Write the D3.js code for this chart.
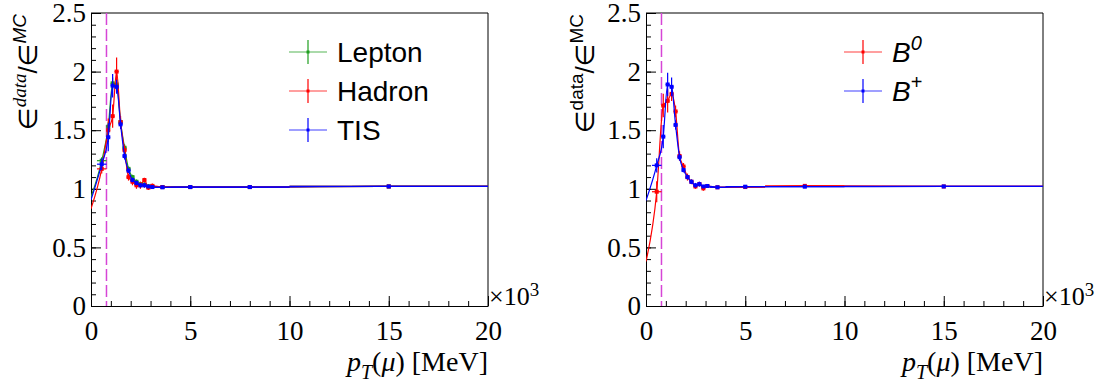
<!DOCTYPE html>
<html><head><meta charset="utf-8">
<script src="https://cdn.jsdelivr.net/npm/d3@7"></script>
<style>
html,body{margin:0;padding:0;background:#fff;}
svg{display:block;}
</style></head>
<body>
<svg id="chart" width="1109" height="383"></svg>
<script>
// ---------- data ----------
const binCenters = [0.54, 0.87, 1.09, 1.29, 1.49, 1.69, 1.89, 2.09, 2.29, 2.49, 2.69, 2.89, 3.09, 3.6, 5, 8, 15];
const binHalfWidths = [0.24, 0.1, 0.1, 0.1, 0.1, 0.1, 0.1, 0.1, 0.1, 0.1, 0.1, 0.1, 0.1, 0.4, 1, 2, 5];

// left panel
const leptonValues = [1.24, 1.53, 1.90, 1.89, 1.57, 1.35, 1.17, 1.10, 1.06, 1.04, 1.035, 1.02, 1.02, 1.015, 1.015, 1.015, 1.02];
const leptonErrors = [0.03, 0.04, 0.05, 0.05, 0.03, 0.03, 0.02, 0.02, 0.02, 0.02, 0.02, 0.02, 0.01, 0.01, 0.005, 0.005, 0.005];
const hadronValues = [1.17, 1.50, 1.62, 2.00, 1.57, 1.33, 1.10, 1.06, 1.03, 1.03, 1.075, 1.01, 1.025, 1.015, 1.015, 1.015, 1.02];
const hadronErrors = [0.04, 0.1, 0.1, 0.12, 0.05, 0.04, 0.03, 0.03, 0.03, 0.03, 0.02, 0.02, 0.02, 0.01, 0.005, 0.005, 0.005];
const tisValues    = [1.21, 1.44, 1.88, 1.87, 1.55, 1.28, 1.155, 1.075, 1.05, 1.03, 1.03, 1.02, 1.015, 1.013, 1.015, 1.015, 1.02];
const tisErrors    = [0.05, 0.12, 0.1, 0.06, 0.04, 0.03, 0.02, 0.02, 0.02, 0.02, 0.02, 0.01, 0.01, 0.01, 0.005, 0.005, 0.005];
const leftCurveStart = {Lepton: 0.93, Hadron: 0.83, TIS: 0.905};

// right panel
const b0Values     = [0.975, 1.71, 1.75, 1.81, 1.66, 1.28, 1.19, 1.10, 1.06, 1.02, 1.04, 1.004, 1.024, 1.013, 1.015, 1.025, 1.02];
const b0Errors     = [0.09, 0.1, 0.1, 0.06, 0.05, 0.04, 0.03, 0.03, 0.02, 0.02, 0.02, 0.02, 0.01, 0.01, 0.005, 0.005, 0.005];
const bplusValues  = [1.20, 1.445, 1.89, 1.87, 1.545, 1.27, 1.16, 1.10, 1.06, 1.03, 1.04, 1.02, 1.024, 1.013, 1.018, 1.018, 1.02];
const bplusErrors  = [0.06, 0.1, 0.1, 0.08, 0.04, 0.03, 0.02, 0.02, 0.02, 0.02, 0.02, 0.01, 0.01, 0.01, 0.005, 0.005, 0.005];
const rightCurveStart = {B0: 0.38, Bplus: 0.90};

const xTicks = [0, 5, 10, 15, 20];
const yTicks = [0, 0.5, 1, 1.5, 2, 2.5];
const cutValue = 0.78;

// ---------- drawing ----------
const svg = d3.select("#chart");
const SERIF = "'Liberation Serif','Times New Roman',serif";
const SANS = "'Liberation Sans',Arial,sans-serif";

function panel(opts) {
  const x = d3.scaleLinear().domain([0, 20]).range([opts.x0, opts.x1]);
  const y = d3.scaleLinear().domain([0, 2.5]).range([306, 13]);
  const g = svg.append("g");

  // minor ticks
  g.append("g").attr("transform", `translate(0,${y(0)})`)
    .call(d3.axisBottom(x).tickValues(d3.range(0, 21, 1)).tickSize(-5).tickFormat(""))
    .call(s => s.select(".domain").remove());
  g.append("g").attr("transform", `translate(${x(0)},0)`)
    .call(d3.axisLeft(y).tickValues(d3.range(0, 2.51, 0.1)).tickSize(-5).tickFormat(""))
    .call(s => s.select(".domain").remove());
  // major
  const xa = g.append("g").attr("transform", `translate(0,${y(0)})`)
    .call(d3.axisBottom(x).tickValues(xTicks).tickSize(-10).tickSizeOuter(0).tickPadding(15).tickFormat(d3.format("d")));
  const ya = g.append("g").attr("transform", `translate(${x(0)},0)`)
    .call(d3.axisLeft(y).tickValues(yTicks).tickSize(-10).tickSizeOuter(0).tickPadding(5).tickFormat(d => d3.format("")(d)));
  [xa, ya].forEach(a => {
    a.attr("font-family", SERIF).attr("font-size", 27);
    a.selectAll("text").attr("font-family", SERIF).attr("font-size", 27).attr("fill", "#000");
    a.selectAll("line").attr("stroke", "#000");
    a.select(".domain").attr("stroke", "#000");
  });
  g.selectAll(".tick line").attr("stroke", "#000");
  // frame top/right
  g.append("path").attr("d", `M${x(0)},${y(2.5)}H${x(20)}V${y(0)}`).attr("fill", "none").attr("stroke", "#000");

  // x10^3
  const e = g.append("text").attr("x", x(20) + 1).attr("y", 305).attr("font-family", SERIF).attr("font-size", 26);
  e.append("tspan").text("×10");
  e.append("tspan").attr("dy", -9).attr("font-size", 19).text("3");

  // x title
  const t = g.append("text").attr("x", x(20)).attr("y", 371).attr("text-anchor", "end")
    .attr("font-family", SERIF).attr("font-size", 28);
  t.append("tspan").attr("font-style", "italic").text("p");
  t.append("tspan").attr("font-style", "italic").attr("font-size", 20).attr("dy", 8).text("T");
  t.append("tspan").attr("dy", -8).text("(");
  t.append("tspan").attr("font-style", "italic").text("μ");
  t.append("tspan").text(") [MeV]");

  // y title
  const yt = g.append("text").attr("transform", `translate(${opts.ytx},14) rotate(-90)`)
    .attr("text-anchor", "end").attr("font-family", "'DejaVu Sans',sans-serif").attr("font-size", 26);
  yt.append("tspan").text("∈");
  yt.append("tspan").attr("dy", -11).attr("font-size", 19).attr("font-family", opts.supFont).attr("font-style", opts.supStyle).text("data");
  yt.append("tspan").attr("dy", 11).attr("font-family", SANS).text("/");
  yt.append("tspan").text("∈");
  yt.append("tspan").attr("dy", -11).attr("font-size", 19).attr("font-family", SANS).attr("font-style", opts.supStyle2).text("MC");

  // cut line
  g.append("line").attr("x1", x(cutValue)).attr("x2", x(cutValue)).attr("y1", y(2.5)).attr("y2", y(0))
    .attr("stroke", "#d645d6").attr("stroke-width", 1.5).attr("stroke-dasharray", "12,4");

  const clip = "clip" + opts.id;
  svg.append("clipPath").attr("id", clip).append("rect")
    .attr("x", x(0)).attr("y", y(2.5)).attr("width", x(20) - x(0)).attr("height", y(0) - y(2.5));

  const line = d3.line().x(d => x(d[0])).y(d => y(d[1])).curve(d3.curveMonotoneX);
  opts.series.forEach(s => {
    const pts = [[0, s.start]].concat(binCenters.map((c, i) => [c, s.values[i]])).concat([[20, s.values[s.values.length - 1]]]);
    const sg = g.append("g").attr("clip-path", `url(#${clip})`);
    sg.append("path").attr("d", line(pts)).attr("fill", "none").attr("stroke", s.color).attr("stroke-width", 1.2);
    binCenters.forEach((c, i) => {
      const v = s.values[i], er = s.errors[i];
      sg.append("line").attr("x1", x(c - binHalfWidths[i])).attr("x2", x(c + binHalfWidths[i]))
        .attr("y1", y(v)).attr("y2", y(v)).attr("stroke", s.color).attr("stroke-width", 1.2);
      sg.append("line").attr("x1", x(c)).attr("x2", x(c))
        .attr("y1", y(v - er)).attr("y2", y(v + er)).attr("stroke", s.color).attr("stroke-width", 1.2);
      sg.append("rect").attr("x", x(c) - 2).attr("y", y(v) - 2).attr("width", 4).attr("height", 4).attr("fill", s.color);
    });
  });

  // legend
  opts.series.forEach((s, i) => {
    const cy = opts.legY + i * 39;
    const lg = g.append("g");
    lg.append("line").attr("x1", opts.legX - 19).attr("x2", opts.legX + 19).attr("y1", cy).attr("y2", cy)
      .attr("stroke", s.color).attr("stroke-width", 1.2).attr("opacity", 0.75);
    lg.append("line").attr("x1", opts.legX).attr("x2", opts.legX).attr("y1", cy - 12).attr("y2", cy + 12)
      .attr("stroke", s.color).attr("stroke-width", 1.2);
    lg.append("rect").attr("x", opts.legX - 1.5).attr("y", cy - 1.5).attr("width", 3).attr("height", 3).attr("fill", s.color);
    const tx = lg.append("text").attr("x", opts.legX + 29).attr("y", cy + 10).attr("font-family", SANS).attr("font-size", 28);
    s.label(tx);
  });
}

panel({
  id: "L", x0: 91, x1: 488, ytx: 37, supFont: SERIF, supStyle: "italic", supStyle2: "italic",
  legX: 308, legY: 52,
  series: [
    {color: "#1f9e1f", values: leptonValues, errors: leptonErrors, start: leftCurveStart.Lepton, label: t => t.text("Lepton")},
    {color: "#ff0000", values: hadronValues, errors: hadronErrors, start: leftCurveStart.Hadron, label: t => t.text("Hadron")},
    {color: "#0000ff", values: tisValues, errors: tisErrors, start: leftCurveStart.TIS, label: t => t.text("TIS")}
  ]
});
panel({
  id: "R", x0: 646, x1: 1043, ytx: 594, supFont: SANS, supStyle: "normal", supStyle2: "normal",
  legX: 863, legY: 52,
  series: [
    {color: "#ff0000", values: b0Values, errors: b0Errors, start: rightCurveStart.B0,
      label: t => { t.append("tspan").attr("font-style", "italic").text("B"); t.append("tspan").attr("font-style", "italic").attr("font-size", 20).attr("dy", -12).text("0"); }},
    {color: "#0000ff", values: bplusValues, errors: bplusErrors, start: rightCurveStart.Bplus,
      label: t => { t.append("tspan").attr("font-style", "italic").text("B"); t.append("tspan").attr("font-size", 20).attr("dy", -12).text("+"); }}
  ]
});
</script>
</body></html>
